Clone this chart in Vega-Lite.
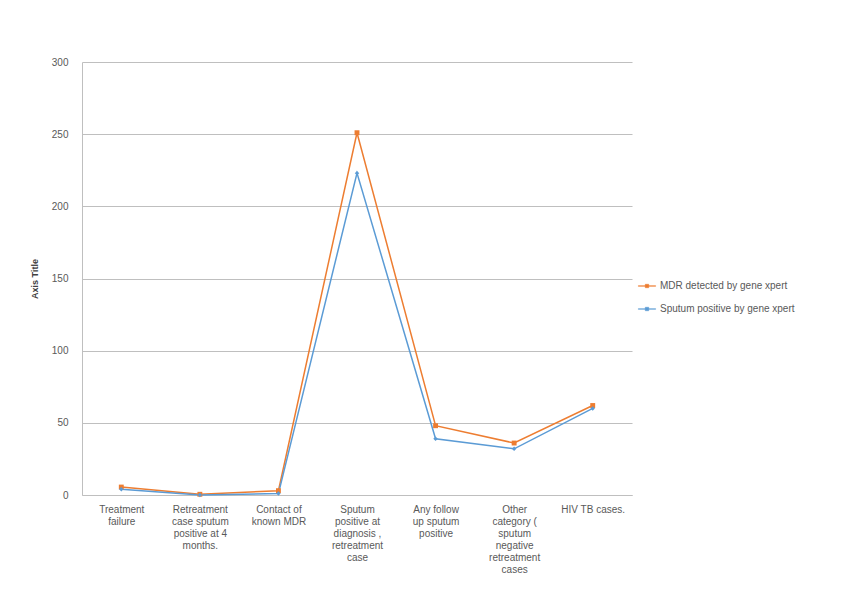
{
  "$schema": "https://vega.github.io/schema/vega-lite/v6.json",
  "width": 550,
  "height": 433,
  "autosize": {"type": "none"},
  "padding": {"left": 82, "top": 62, "right": 230, "bottom": 99},
  "background": "white",
  "config": {
    "font": "Liberation Sans",
    "view": {"stroke": null},
    "axis": {"labelColor": "#595959", "labelFontSize": 10, "titleColor": "#404040"}
  },
  "data": {
    "values": [
      {"cat": "Treatment|failure", "series": "MDR detected by gene xpert", "value": 5.5},
      {"cat": "Retreatment|case sputum|positive at 4|months.", "series": "MDR detected by gene xpert", "value": 0.5},
      {"cat": "Contact of|known MDR", "series": "MDR detected by gene xpert", "value": 3},
      {"cat": "Sputum|positive at|diagnosis ,|retreatment|case", "series": "MDR detected by gene xpert", "value": 251},
      {"cat": "Any follow|up sputum|positive", "series": "MDR detected by gene xpert", "value": 48},
      {"cat": "Other|category (|sputum|negative|retreatment|cases", "series": "MDR detected by gene xpert", "value": 36},
      {"cat": "HIV TB cases.", "series": "MDR detected by gene xpert", "value": 62},
      {"cat": "Treatment|failure", "series": "Sputum positive by gene xpert", "value": 4},
      {"cat": "Retreatment|case sputum|positive at 4|months.", "series": "Sputum positive by gene xpert", "value": 0},
      {"cat": "Contact of|known MDR", "series": "Sputum positive by gene xpert", "value": 1},
      {"cat": "Sputum|positive at|diagnosis ,|retreatment|case", "series": "Sputum positive by gene xpert", "value": 223},
      {"cat": "Any follow|up sputum|positive", "series": "Sputum positive by gene xpert", "value": 39},
      {"cat": "Other|category (|sputum|negative|retreatment|cases", "series": "Sputum positive by gene xpert", "value": 32},
      {"cat": "HIV TB cases.", "series": "Sputum positive by gene xpert", "value": 60}
    ]
  },
  "encoding": {
    "x": {
      "field": "cat",
      "type": "nominal",
      "sort": null,
      "scale": {"type": "point", "padding": 0.5},
      "axis": {
        "title": null,
        "labelAngle": 0,
        "labelExpr": "split(datum.label, '|')",
        "labelLineHeight": 12,
        "labelPadding": 9,
        "ticks": false,
        "domainColor": "#bfbfbf",
        "grid": false
      }
    },
    "y": {
      "field": "value",
      "type": "quantitative",
      "scale": {"domain": [0, 300]},
      "axis": {
        "title": "Axis Title",
        "titleFontSize": 9,
        "titleFontWeight": "bold",
        "titlePadding": 12,
        "values": [0, 50, 100, 150, 200, 250, 300],
        "gridColor": "#bfbfbf",
        "domainColor": "#bfbfbf",
        "ticks": false,
        "labelPadding": 14
      }
    }
  },
  "layer": [
    {
      "mark": {"type": "line", "strokeWidth": 1.5},
      "encoding": {
        "color": {
          "field": "series",
          "type": "nominal",
          "scale": {"domain": ["MDR detected by gene xpert", "Sputum positive by gene xpert"], "range": ["#ED7D31", "#5B9BD5"]},
          "legend": {
            "title": null,
            "orient": "none",
            "legendX": 556,
            "legendY": 215,
            "symbolType": "M-1,-0.04H1V0.04H-1Z M-0.2,-0.2H0.2V0.2H-0.2Z",
            "symbolSize": 300,
            "symbolStrokeWidth": 0.5,
            "labelFontSize": 10,
            "labelColor": "#595959",
            "rowPadding": 9,
            "encode": {"symbols": {"update": {"fill": {"field": "value", "scale": "color"}}}}
          }
        }
      }
    },
    {
      "transform": [{"filter": "datum.series === 'MDR detected by gene xpert'"}],
      "mark": {"type": "point", "filled": true, "size": 24, "opacity": 1, "shape": "square", "color": "#ED7D31"}
    },
    {
      "transform": [{"filter": "datum.series === 'Sputum positive by gene xpert'"}],
      "mark": {"type": "point", "filled": true, "size": 20, "opacity": 1, "shape": "diamond", "color": "#5B9BD5"}
    }
  ]
}
